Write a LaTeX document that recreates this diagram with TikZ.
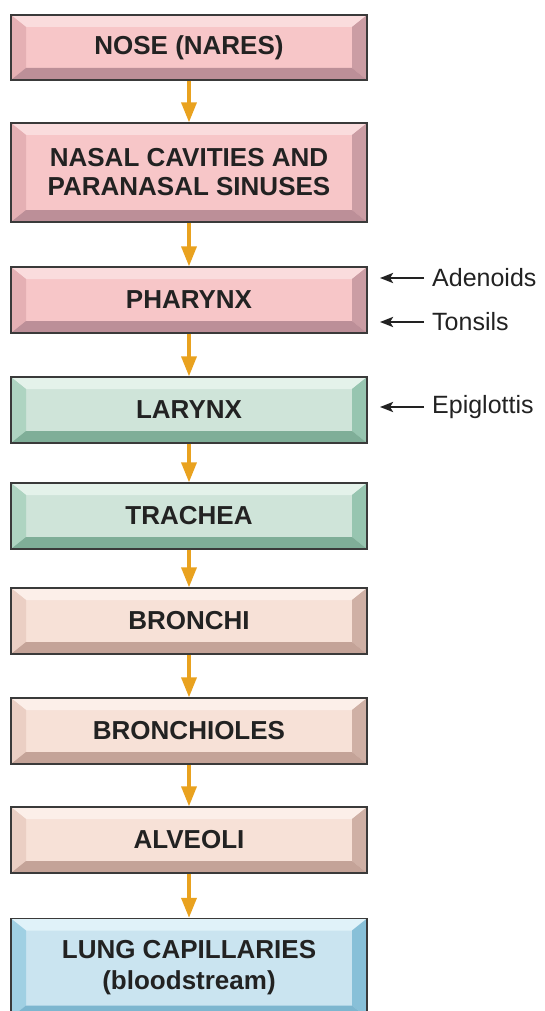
\documentclass[tikz,border=0pt]{standalone}
\usepackage{fontspec}
\setmainfont{Liberation Sans}
\usetikzlibrary{arrows.meta,calc}
\definecolor{pkF}{HTML}{F7C6C8}\definecolor{pkT}{HTML}{FADCDD}\definecolor{pkL}{HTML}{E5B0B4}\definecolor{pkR}{HTML}{CB9DA4}\definecolor{pkB}{HTML}{BC8F98}
\definecolor{grF}{HTML}{CFE4D9}\definecolor{grT}{HTML}{E4F2EA}\definecolor{grL}{HTML}{AED4C1}\definecolor{grR}{HTML}{97C5B0}\definecolor{grB}{HTML}{7FAE98}
\definecolor{peF}{HTML}{F7E1D7}\definecolor{peT}{HTML}{FCEFE9}\definecolor{peL}{HTML}{EBCFC4}\definecolor{peR}{HTML}{CFB0A5}\definecolor{peB}{HTML}{C4A398}
\definecolor{blF}{HTML}{CAE4F0}\definecolor{blT}{HTML}{E0F2F9}\definecolor{blL}{HTML}{A0D0E3}\definecolor{blR}{HTML}{88C0D8}\definecolor{blB}{HTML}{7DB6CF}
\definecolor{flowc}{HTML}{E9A21F}
\definecolor{ink}{HTML}{222222}
\definecolor{edge}{HTML}{3A3A3A}
\tikzset{
  bev/.style={fill=#1F, draw=edge, line width=1.3pt, minimum width=356pt, inner sep=0pt,
    align=center, text=ink, font=\fontsize{26}{29}\selectfont\bfseries,
    path picture={
      \coordinate (pnw) at (path picture bounding box.north west);
      \coordinate (pne) at (path picture bounding box.north east);
      \coordinate (psw) at (path picture bounding box.south west);
      \coordinate (pse) at (path picture bounding box.south east);
      \fill[#1T] (pnw) -- (pne) -- ($(pne)+(-15,12)$) -- ($(pnw)+(15,12)$) -- cycle;
      \fill[#1L] (pnw) -- ($(pnw)+(15,12)$) -- ($(psw)+(15,-12)$) -- (psw) -- cycle;
      \fill[#1R] (pne) -- ($(pne)+(-15,12)$) -- ($(pse)+(-15,-12)$) -- (pse) -- cycle;
      \fill[#1B] (psw) -- ($(psw)+(15,-12)$) -- ($(pse)+(-15,-12)$) -- (pse) -- cycle;
    }},
  flow/.style={draw=flowc, line width=3.5pt, -{Triangle[length=20pt,width=15pt]}},
  side/.style={draw=ink, line width=2.5pt, -{Stealth[length=13pt,width=10pt,inset=3pt]}, shorten <=8pt},
  lab/.style={anchor=west, inner sep=0pt, text=ink, font=\fontsize{25}{28}\selectfont},
}
\begin{document}
\begin{tikzpicture}[x=1pt,y=-1pt]
\useasboundingbox (0,0) rectangle (544,1011);
\node[bev=pk, minimum height=65pt] (n1) at (189,47.5) {NOSE (NARES)};
\node[bev=pk, minimum height=99pt] (n2) at (189,172.5) {NASAL CAVITIES AND\\PARANASAL SINUSES};
\node[bev=pk, minimum height=66pt] (n3) at (189,300) {PHARYNX};
\node[bev=gr, minimum height=66pt] (n4) at (189,410) {LARYNX};
\node[bev=gr, minimum height=66pt] (n5) at (189,516) {TRACHEA};
\node[bev=pe, minimum height=66pt] (n6) at (189,621) {BRONCHI};
\node[bev=pe, minimum height=66pt] (n7) at (189,731) {BRONCHIOLES};
\node[bev=pe, minimum height=66pt] (n8) at (189,840) {ALVEOLI};
\node[bev=bl, minimum height=99pt, font=\fontsize{26}{31}\selectfont\bfseries] (n9) at (189,968) {LUNG CAPILLARIES\\(bloodstream)};
\foreach \a/\b in {n1/n2,n2/n3,n3/n4,n4/n5,n5/n6,n6/n7,n7/n8,n8/n9}
  \draw[flow] (\a.south) -- (\b.north);
\node[lab] (ad) at (432,278) {Adenoids};
\node[lab] (to) at (432,322) {Tonsils};
\node[lab] (ep) at (432,407) {Epiglottis};
\coordinate (adt) at (380,278);
\coordinate (tot) at (380,322);
\coordinate (ept) at (380,407);
\draw[side] (ad.west) -- (adt);
\draw[side] (to.west) -- (tot);
\draw[side] (ep.west) -- (ept);
\end{tikzpicture}
\end{document}
